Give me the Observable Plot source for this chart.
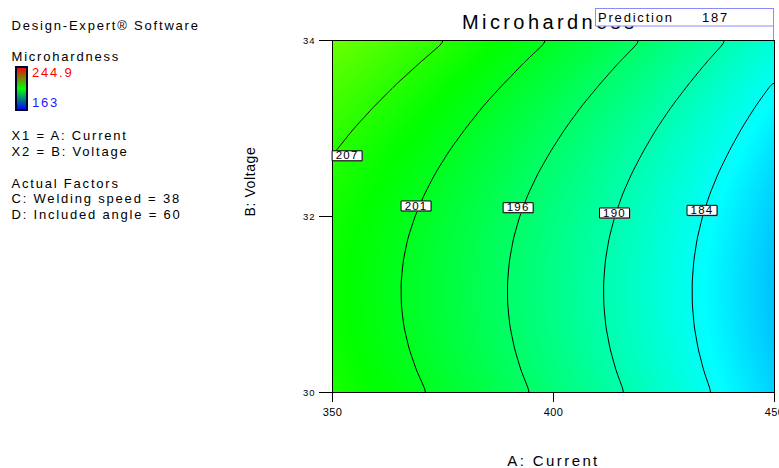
<!DOCTYPE html>
<html>
<head>
<meta charset="utf-8">
<script src="https://cdn.jsdelivr.net/npm/d3@7"></script>
<script src="https://cdn.jsdelivr.net/npm/@observablehq/plot@0.6"></script>
<style>
html, body { margin: 0; padding: 0; background: #fff; overflow: hidden; }
#wrap { position: relative; width: 779px; height: 468px; font-family: Arial, "Liberation Sans", sans-serif; }
#wrap svg { position: absolute; left: 0; top: 0; overflow: visible; }
</style>
</head>
<body>
<div id="wrap"></div>
<script>
// ---- data ----
const currents = [350, 360, 370, 380, 390, 400, 410, 420, 430, 440, 450];   // A: Current
const voltages = [30, 30.25, 30.5, 30.75, 31, 31.25, 31.5, 31.75, 32,
                  32.25, 32.5, 32.75, 33, 33.25, 33.5, 33.75, 34];           // B: Voltage
// microhardness estimates, one row per voltage (30 → 34), one column per current (350 → 450)
const h3000 = [206.05, 203.92, 201.69, 199.34, 196.89, 194.33, 191.66, 188.89, 186.00, 183.01, 179.91];
const h3025 = [205.54, 203.41, 201.18, 198.83, 196.38, 193.82, 191.15, 188.38, 185.49, 182.50, 179.40];
const h3050 = [205.16, 203.03, 200.80, 198.45, 196.00, 193.44, 190.77, 188.00, 185.11, 182.12, 179.02];
const h3075 = [204.90, 202.77, 200.54, 198.19, 195.74, 193.18, 190.51, 187.74, 184.85, 181.86, 178.76];
const h3100 = [204.77, 202.64, 200.41, 198.06, 195.61, 193.05, 190.38, 187.61, 184.72, 181.73, 178.63];
const h3125 = [204.76, 202.63, 200.40, 198.05, 195.60, 193.04, 190.37, 187.60, 184.71, 181.72, 178.62];
const h3150 = [204.87, 202.74, 200.51, 198.16, 195.71, 193.15, 190.48, 187.71, 184.82, 181.83, 178.73];
const h3175 = [205.10, 202.97, 200.74, 198.39, 195.94, 193.38, 190.71, 187.94, 185.05, 182.06, 178.96];
const h3200 = [205.46, 203.33, 201.10, 198.75, 196.30, 193.74, 191.07, 188.30, 185.41, 182.42, 179.32];
const h3225 = [205.94, 203.81, 201.58, 199.23, 196.78, 194.22, 191.55, 188.78, 185.89, 182.90, 179.80];
const h3250 = [206.55, 204.42, 202.19, 199.84, 197.39, 194.83, 192.16, 189.39, 186.50, 183.51, 180.41];
const h3275 = [207.28, 205.15, 202.92, 200.57, 198.12, 195.56, 192.89, 190.12, 187.23, 184.24, 181.14];
const h3300 = [208.13, 206.00, 203.77, 201.42, 198.97, 196.41, 193.74, 190.97, 188.08, 185.09, 181.99];
const h3325 = [209.10, 206.97, 204.74, 202.39, 199.94, 197.38, 194.71, 191.94, 189.05, 186.06, 182.96];
const h3350 = [210.20, 208.07, 205.84, 203.49, 201.04, 198.48, 195.81, 193.04, 190.15, 187.16, 184.06];
const h3375 = [211.42, 209.29, 207.06, 204.71, 202.26, 199.70, 197.03, 194.26, 191.37, 188.38, 185.28];
const h3400 = [212.77, 210.64, 208.41, 206.06, 203.61, 201.05, 198.38, 195.61, 192.72, 189.73, 186.63];
const hardnessRows = [h3000, h3025, h3050, h3075, h3100, h3125, h3150, h3175, h3200,
                      h3225, h3250, h3275, h3300, h3325, h3350, h3375, h3400];

const contourLevels = [184.3, 190.0, 195.7, 201.4, 207.1];
const contourLabels = ["184", "190", "196", "201", "207"];
const labelCurrent  = [433.6, 413.8, 392.0, 368.9, 353.3];
const labelVoltage  = [32.07, 32.04, 32.10, 32.12, 32.69];

const currentTicks = [350, 400, 450];
const voltageTicks = [30, 32, 34];
const colorLow = 163, colorHigh = 244.9;
const predictionValue = 187;
const welding = 38, includedAngle = 60;
const xTitle = "A: Current", yTitle = "B: Voltage";

// ---- tables ----
const cells = voltages.flatMap((B, i) => currents.map((A, j) => ({A, B, v: hardnessRows[i][j]})));
const labels = contourLabels.map((t, i) => ({text: t, A: labelCurrent[i], B: labelVoltage[i]}));

const FONT = 'Arial, "Liberation Sans", sans-serif';
const labelBox = {draw(ctx) { ctx.moveTo(-15, -5); ctx.lineTo(15, -5); ctx.lineTo(15, 5); ctx.lineTo(-15, 5); ctx.closePath(); }};

const chart = Plot.plot({
  width: 779, height: 468,
  marginLeft: 332, marginRight: 5, marginTop: 40, marginBottom: 76,
  x: {domain: [350, 450], axis: null},
  y: {domain: [30, 34], axis: null},
  color: {type: "linear", domain: [colorLow, colorHigh], interpolate: t => d3.hsl(240 * (1 - t), 1, 0.5).toString()},
  style: {fontFamily: FONT, fontSize: "10px", color: "black", background: "transparent"},
  marks: [
    Plot.raster(cells, {x: "A", y: "B", fill: "v", interpolate: "barycentric", pixelSize: 1}),
    Plot.contour(cells, {x: "A", y: "B", value: "v", thresholds: contourLevels, interpolate: "barycentric",
                         pixelSize: 1, blur: 3, stroke: "black", strokeWidth: 1, fill: "none"}),
    Plot.frame({stroke: "black"}),
    Plot.axisX({ticks: currentTicks, tickSize: 10, tickPadding: 6, fontSize: 11, label: null, tickFormat: d => String(d)}),
    Plot.axisY({ticks: voltageTicks, tickSize: 13, tickPadding: 4, fontSize: 9.5, label: null, tickFormat: d => String(d)}),
    Plot.dot(labels, {x: "A", y: "B", symbol: labelBox, fill: "#888", stroke: "none", dx: 1, dy: 1}),
    Plot.dot(labels, {x: "A", y: "B", symbol: labelBox, fill: "white", stroke: "black", strokeWidth: 1}),
    Plot.text(labels, {x: "A", y: "B", text: "text", fontSize: 11.5, fill: "black"}),
    Plot.text([xTitle], {frameAnchor: "bottom", dy: 73, fontSize: 15, fill: "black"}),
    Plot.text([yTitle], {frameAnchor: "left", dx: -82, rotate: -90, fontSize: 14, fill: "black"})
  ]
});
document.getElementById("wrap").appendChild(chart);

// letter spacing to mimic the reference's wide text rendering
chart.querySelectorAll("text").forEach(t => {
  const s = t.textContent;
  let v = null;
  if (s === xTitle) v = 2.4;
  else if (s === yTitle) v = 0.6;
  else if (contourLabels.includes(s)) v = 1.2;
  else if (currentTicks.map(String).includes(s)) v = 0.4;
  else if (voltageTicks.map(String).includes(s)) v = 1;
  if (v != null) t.setAttribute("letter-spacing", v);
});

// ---- left legend panel, title and prediction box ----
const ov = d3.select("#wrap").append("svg").attr("width", 779).attr("height", 468)
  .style("font-family", FONT).style("pointer-events", "none");
const grad = ov.append("defs").append("linearGradient").attr("id", "cbar")
  .attr("x1", 0).attr("y1", 0).attr("x2", 0).attr("y2", 1);
grad.append("stop").attr("offset", 0).attr("stop-color", "#ff0000");
grad.append("stop").attr("offset", 0.5).attr("stop-color", "#00ff00");
grad.append("stop").attr("offset", 1).attr("stop-color", "#0000ff");

const panelText = [
  ["Design-Expert\u00ae Software", 11.5, 30.3, "black"],
  ["Microhardness", 11.5, 61, "black"],
  [String(colorHigh), 32, 77, "#ff0000"],
  [String(colorLow), 32, 107, "#1a1aff"],
  ["X1 = A: Current", 11.5, 140, "black"],
  ["X2 = B: Voltage", 11.5, 156, "black"],
  ["Actual Factors", 11.5, 187.5, "black"],
  [`C: Welding speed = ${welding}`, 11.5, 203.3, "black"],
  [`D: Included angle = ${includedAngle}`, 11.5, 218.5, "black"]
];
ov.append("rect").attr("x", 16).attr("y", 67).attr("width", 11).attr("height", 43)
  .attr("fill", "url(#cbar)").attr("stroke", "#000033").attr("stroke-width", 2);
ov.selectAll("text.p").data(panelText).join("text").attr("class", "p")
  .attr("x", d => d[1]).attr("y", d => d[2]).attr("fill", d => d[3])
  .attr("font-size", 13).attr("letter-spacing", 1.8).text(d => d[0]);

ov.append("text").attr("x", 462).attr("y", 29.3).attr("font-size", 20).attr("letter-spacing", 3.4)
  .attr("fill", "black").text("Microhardness");
ov.append("rect").attr("x", 595.5).attr("y", 8.5).attr("width", 178).attr("height", 17.5)
  .attr("fill", "white").attr("stroke", "#8a8aff").attr("stroke-width", 1);
ov.append("line").attr("x1", 773.5).attr("x2", 773.5).attr("y1", 26).attr("y2", 40)
  .attr("stroke", "#8a8aff").attr("stroke-width", 1);
ov.append("text").attr("x", 598).attr("y", 22).attr("font-size", 13).attr("letter-spacing", 1.8)
  .attr("fill", "black").text("Prediction");
ov.append("text").attr("x", 702).attr("y", 22).attr("font-size", 13).attr("letter-spacing", 1.8)
  .attr("fill", "black").text(String(predictionValue));
</script>
</body>
</html>
